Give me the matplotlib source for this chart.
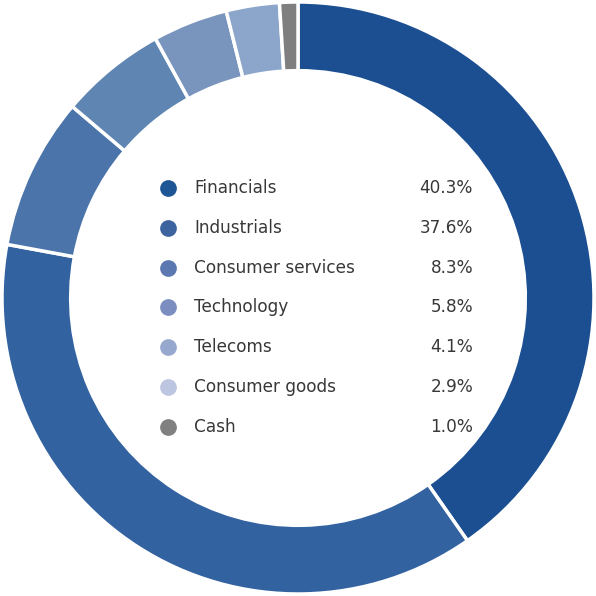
import matplotlib.pyplot as plt

sectors = ["Financials", "Industrials", "Consumer services", "Technology",
           "Telecoms", "Consumer goods", "Cash"]
weights = [40.3, 37.6, 8.3, 5.8, 4.1, 2.9, 1.0]

# ring colours and the (slightly lighter) legend dot colours
ring_colors = ["#1b4f91", "#3362a0", "#4a74aa", "#5f86b3", "#7995be", "#8ba6ca", "#7f7f7f"]
dot_colors = ["#1d5595", "#3e64a0", "#5b78b0", "#7b8ebf", "#97a8cf", "#bdc6e0", "#808080"]

fig = plt.figure(figsize=(5.96, 5.96), dpi=100)
ax = fig.add_axes([0, 0, 1, 1])

ax.pie(weights, colors=ring_colors, startangle=90, counterclock=False,
       radius=1.0, wedgeprops=dict(width=0.232, edgecolor="white", linewidth=2.5))

lim = 298 / 296
ax.set_xlim(-lim, lim)
ax.set_ylim(-lim, lim)
ax.set_aspect("equal")
ax.axis("off")

# legend inside the hole, pixel layout converted to data units
def px(x):
    return (x - 298) / 296

def py(y):
    return (298 - y) / 296

for i, (name, w) in enumerate(zip(sectors, weights)):
    y = py(188 + i * 39.8)
    ax.scatter(px(168), y, s=145, color=dot_colors[i], linewidths=0, zorder=3)
    ax.text(px(194), y, name, fontsize=12.2, color="#383838",
            va="center", ha="left", family="DejaVu Sans")
    ax.text(px(473), y, f"{w:.1f}%", fontsize=12.2, color="#383838",
            va="center", ha="right", family="DejaVu Sans")

fig.savefig("out.png", dpi=100, facecolor="white")
